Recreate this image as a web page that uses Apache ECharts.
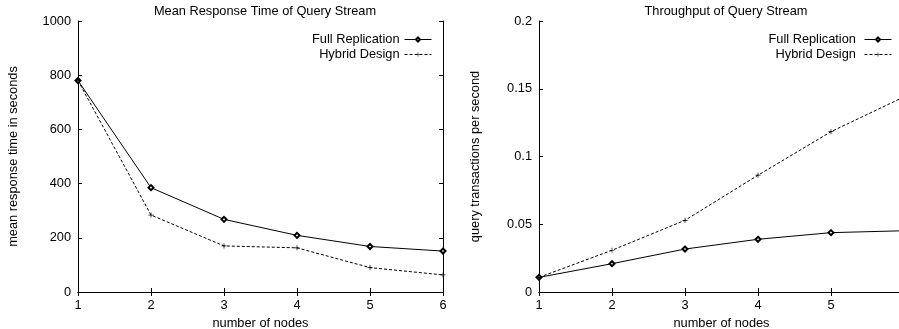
<!DOCTYPE html>
<html>
<head>
<meta charset="utf-8">
<script src="https://cdn.jsdelivr.net/npm/echarts@6/dist/echarts.min.js"></script>
<style>
  html, body { margin: 0; padding: 0; background: #fff; }
  #main { width: 899px; height: 329px; }
</style>
</head>
<body>
<div id="main"></div>
<script>
const nodes = [1, 2, 3, 4, 5, 6];

// mean response time (seconds)
const respFull = [780, 385, 268, 209, 168, 151];
const respHybrid = [780, 284, 170, 163, 90, 63];

// throughput (query transactions per second)
const thrFull = [0.0108, 0.0209, 0.0317, 0.0389, 0.0438, 0.0452];
const thrHybrid = [0.0108, 0.0308, 0.0529, 0.0862, 0.1183, 0.1440];

const font = "Liberation Sans";
const fs = 12.8;
const plusPath = "path://M4.3,0H5.7V4.3H10V5.7H5.7V10H4.3V5.7H0V4.3H4.3Z";

const pairs = (ys) => nodes.map((x, i) => [x, ys[i]]);

const grids = [
  { left: 78, top: 21, width: 365, height: 271, outerBoundsMode: "none", containLabel: false },
  { left: 539, top: 21, width: 365, height: 271, outerBoundsMode: "none", containLabel: false },
];

const tickLabel = { color: "#000", fontFamily: font, fontSize: fs };

const makeX = (gridIndex) => [
  {
    type: "value",
    gridIndex: gridIndex,
    min: 1,
    max: 6,
    interval: 1,
    name: "number of nodes",
    nameLocation: "middle",
    nameGap: 15,
    nameTextStyle: { color: "#000", fontFamily: font, fontSize: fs },
    axisLine: { lineStyle: { color: "#000", width: 1 } },
    axisTick: { inside: true, length: 4, lineStyle: { color: "#000" } },
    axisLabel: Object.assign({ margin: 7 }, tickLabel),
    splitLine: { show: false },
  },
  {
    type: "value",
    gridIndex: gridIndex,
    position: "top",
    min: 1,
    max: 6,
    interval: 1,
    axisLine: { lineStyle: { color: "#000", width: 1 } },
    axisTick: { inside: true, length: 4, lineStyle: { color: "#000" } },
    axisLabel: { show: false },
    splitLine: { show: false },
  },
];

const makeY = (gridIndex, max, interval, name, gap) => [
  {
    type: "value",
    gridIndex: gridIndex,
    min: 0,
    max: max,
    interval: interval,
    name: name,
    nameLocation: "middle",
    nameGap: gap,
    nameTextStyle: { color: "#000", fontFamily: font, fontSize: fs },
    axisLine: { show: true, lineStyle: { color: "#000", width: 1 } },
    axisTick: { show: true, inside: true, length: 4, lineStyle: { color: "#000" } },
    axisLabel: Object.assign({ margin: 7, formatter: (v) => String(+v.toFixed(4)) }, tickLabel),
    splitLine: { show: false },
  },
  {
    type: "value",
    gridIndex: gridIndex,
    position: "right",
    min: 0,
    max: max,
    interval: interval,
    axisLine: { show: true, lineStyle: { color: "#000", width: 1 } },
    axisTick: { show: true, inside: true, length: 4, lineStyle: { color: "#000" } },
    axisLabel: { show: false },
    splitLine: { show: false },
  },
];

const fullSeries = (name, data, xi, yi) => ({
  name: name,
  type: "line",
  xAxisIndex: xi,
  yAxisIndex: yi,
  data: pairs(data),
  symbol: "emptyDiamond",
  symbolSize: 5,
  showAllSymbol: true,
  lineStyle: { color: "#000", width: 1 },
  itemStyle: { color: "#000", borderColor: "#000", borderWidth: 1 },
  animation: false,
});

const hybridSeries = (name, data, xi, yi) => ({
  name: name,
  type: "line",
  xAxisIndex: xi,
  yAxisIndex: yi,
  data: pairs(data),
  symbol: plusPath,
  symbolSize: 5,
  lineStyle: { color: "#000", width: 1, type: [3, 2] },
  itemStyle: { color: "#000" },
  animation: false,
});

const legendBase = {
  orient: "vertical",
  top: 33,
  padding: 0,
  align: "right",
  itemWidth: 27,
  itemHeight: 5,
  itemGap: 2,
  textStyle: { color: "#000", fontFamily: font, fontSize: fs, lineHeight: 12 },
  lineStyle: { width: 1 },
  selectedMode: false,
};

const chart = echarts.init(document.getElementById("main"));

chart.setOption({
  animation: false,
  title: [
    {
      text: "Mean Response Time of Query Stream",
      left: 260,
      top: 0,
      textAlign: "center",
      textStyle: { color: "#000", fontFamily: font, fontSize: fs, fontWeight: "normal" },
    },
    {
      text: "Throughput of Query Stream",
      left: 721,
      top: 0,
      textAlign: "center",
      textStyle: { color: "#000", fontFamily: font, fontSize: fs, fontWeight: "normal" },
    },
  ],
  legend: [
    Object.assign({}, legendBase, {
      right: 467,
      data: ["Full Replication", "Hybrid Design"],
    }),
    Object.assign({}, legendBase, {
      right: 7,
      data: ["Full Replication ", "Hybrid Design "],
    }),
  ],
  grid: grids,
  xAxis: makeX(0).concat(makeX(1)),
  yAxis: makeY(0, 1000, 200, "mean response time in seconds", 58).concat(
    makeY(1, 0.2, 0.05, "query transactions per second", 57)
  ),
  series: [
    fullSeries("Full Replication", respFull, 0, 0),
    hybridSeries("Hybrid Design", respHybrid, 0, 0),
    fullSeries("Full Replication ", thrFull, 2, 2),
    hybridSeries("Hybrid Design ", thrHybrid, 2, 2),
  ],
});
</script>
</body>
</html>
